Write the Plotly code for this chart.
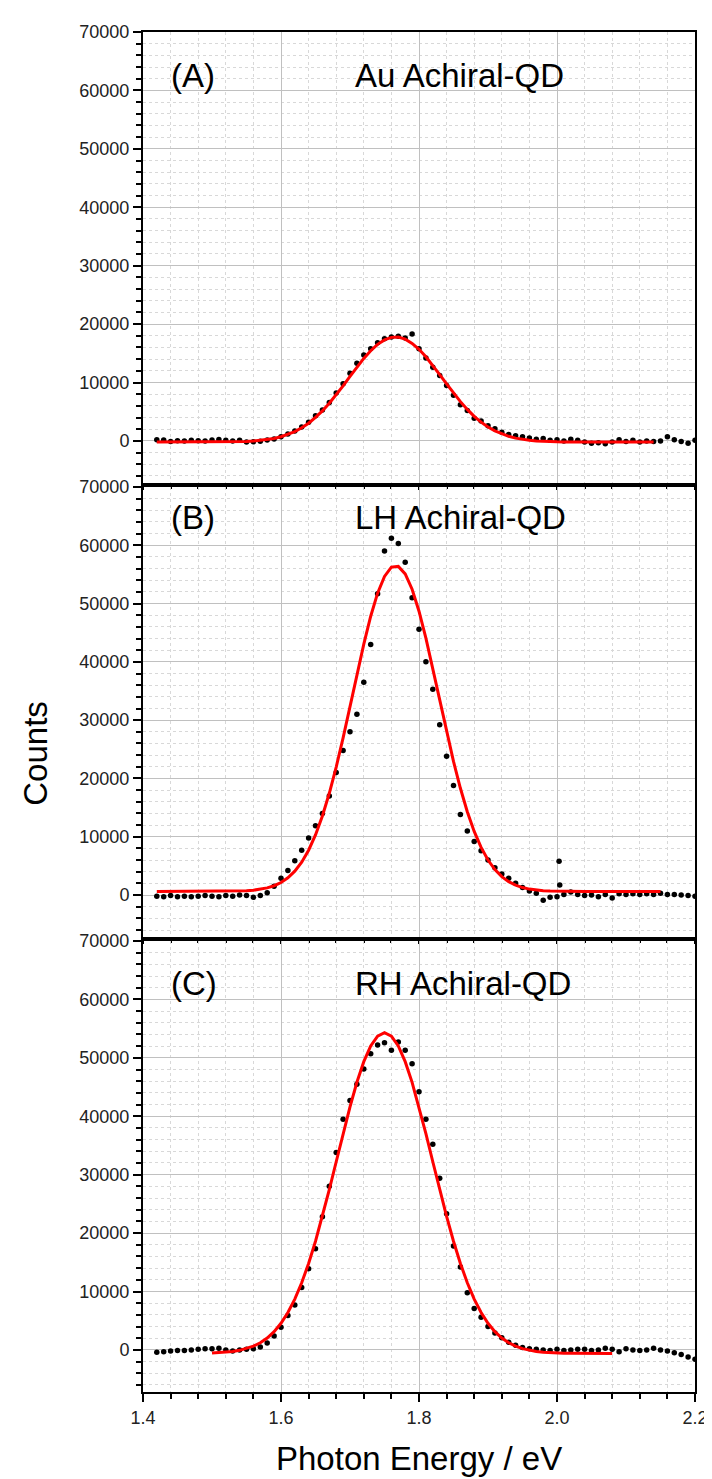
import plotly.graph_objects as go

# ---------------- data ----------------
energy = [1.42, 1.43, 1.44, 1.45, 1.46, 1.47, 1.48, 1.49, 1.50, 1.51,
          1.52, 1.53, 1.54, 1.55, 1.56, 1.57, 1.58, 1.59, 1.60, 1.61,
          1.62, 1.63, 1.64, 1.65, 1.66, 1.67, 1.68, 1.69, 1.70, 1.71,
          1.72, 1.73, 1.74, 1.75, 1.76, 1.77, 1.78, 1.79, 1.80, 1.81,
          1.82, 1.83, 1.84, 1.85, 1.86, 1.87, 1.88, 1.89, 1.90, 1.91,
          1.92, 1.93, 1.94, 1.95, 1.96, 1.97, 1.98, 1.99, 2.00, 2.01,
          2.02, 2.03, 2.04, 2.05, 2.06, 2.07, 2.08, 2.09, 2.10, 2.11,
          2.12, 2.13, 2.14, 2.15, 2.16, 2.17, 2.18, 2.19, 2.20]

counts_a = [200, 150, -100, 50, 0, 100, 50, 0, 150, 250,
            100, 0, 100, -200, -150, -50, 150, 350, 700, 1200,
            1700, 2400, 3200, 4300, 5300, 6600, 8200, 9800, 11600, 13300,
            14700, 15800, 16800, 17500, 17800, 17900, 17600, 18300, 15800, 14200,
            12600, 11200, 9500, 7800, 6200, 5200, 3900, 3400, 2600, 2100,
            1500, 1100, 900, 700, 500, 300, 400, 100, 200, 0,
            300, 100, -200, -400, -300, -500, -200, 200, -100, 100,
            -200, 0, -100, 0, 700, 200, -100, -400, 100]

fit_energy_a = [1.42, 1.43, 1.44, 1.45, 1.46, 1.47, 1.48, 1.49, 1.50, 1.51,
                1.52, 1.53, 1.54, 1.55, 1.56, 1.57, 1.58, 1.59, 1.60, 1.61,
                1.62, 1.63, 1.64, 1.65, 1.66, 1.67, 1.68, 1.69, 1.70, 1.71,
                1.72, 1.73, 1.74, 1.75, 1.76, 1.77, 1.78, 1.79, 1.80, 1.81,
                1.82, 1.83, 1.84, 1.85, 1.86, 1.87, 1.88, 1.89, 1.90, 1.91,
                1.92, 1.93, 1.94, 1.95, 1.96, 1.97, 1.98, 1.99, 2.00, 2.01,
                2.02, 2.03, 2.04, 2.05, 2.06, 2.07, 2.08, 2.09, 2.10, 2.11,
                2.12, 2.13, 2.14]
fit_a = [-200, -200, -200, -200, -199, -198, -196, -194, -191, -184,
         -174, -155, -128, -80, -16, 90, 227, 430, 714, 1100,
         1596, 2250, 3033, 4020, 5141, 6450, 7887, 9430, 11039, 12620,
         14119, 15440, 16531, 17300, 17730, 17800, 17422, 16700, 15685, 14400,
         12933, 11350, 9754, 8200, 6723, 5400, 4215, 3220, 2381, 1720,
         1186, 790, 482, 270, 108, 10, -72, -120, -151, -170,
         -183, -190, -195, -197, -199, -200, -200, -200, -200, -200,
         -200, -200, -200]

energy_b = [1.42, 1.43, 1.44, 1.45, 1.46, 1.47, 1.48, 1.49, 1.50, 1.51,
            1.52, 1.53, 1.54, 1.55, 1.56, 1.57, 1.58, 1.59, 1.60, 1.61,
            1.62, 1.63, 1.64, 1.65, 1.66, 1.67, 1.68, 1.69, 1.70, 1.71,
            1.72, 1.73, 1.74, 1.75, 1.76, 1.77, 1.78, 1.79, 1.80, 1.81,
            1.82, 1.83, 1.84, 1.85, 1.86, 1.87, 1.88, 1.89, 1.90, 1.91,
            1.92, 1.93, 1.94, 1.95, 1.96, 1.97, 1.98, 1.99, 2.00,
            2.003, 2.004,
            2.01, 2.02, 2.03, 2.04, 2.05, 2.06, 2.07, 2.08, 2.09, 2.10,
            2.11, 2.12, 2.13, 2.14, 2.15, 2.16, 2.17, 2.18, 2.19, 2.20]
counts_b = [-200, -300, -100, -300, -200, -300, -200, -100, -200, -300,
            -100, -200, 0, -100, -400, -100, 400, 1500, 2900, 4200,
            5900, 7700, 9800, 11900, 14000, 17000, 21000, 24800, 28000, 31000,
            36500, 43000, 51700, 59000, 61200, 60300, 57100, 51000, 45600, 40000,
            35300, 29200, 23800, 18800, 13800, 11000, 9200, 7600, 6000, 4700,
            3600, 2900, 2000, 1300, 700, 300, -900, -400, -300,
            5800, 1700,
            100, 500, 100, -100, 0, -300, 100, -500, 200, 100,
            200, 100, 200, 100, 300, 100, 100, 0, -100, -200]

fit_energy_b = [1.42, 1.43, 1.44, 1.45, 1.46, 1.47, 1.48, 1.49, 1.50, 1.51,
                1.52, 1.53, 1.54, 1.55, 1.56, 1.57, 1.58, 1.59, 1.60, 1.61,
                1.62, 1.63, 1.64, 1.65, 1.66, 1.67, 1.68, 1.69, 1.70, 1.71,
                1.72, 1.73, 1.74, 1.75, 1.76, 1.77, 1.78, 1.79, 1.80, 1.81,
                1.82, 1.83, 1.84, 1.85, 1.86, 1.87, 1.88, 1.89, 1.90, 1.91,
                1.92, 1.93, 1.94, 1.95, 1.96, 1.97, 1.98, 1.99, 2.00, 2.01,
                2.02, 2.03, 2.04, 2.05, 2.06, 2.07, 2.08, 2.09, 2.10, 2.11,
                2.12, 2.13, 2.14, 2.15]
fit_b = [600, 600, 600, 600, 600, 600, 600, 600, 600, 605,
         621, 640, 673, 729, 824, 975, 1221, 1595, 2150, 2957,
         4094, 5642, 7688, 10316, 13564, 17459, 21960, 26974, 32324, 37774,
         43050, 47830, 51793, 54667, 56237, 56383, 55091, 52464, 48696, 44057,
         38858, 33408, 28019, 22926, 18315, 14290, 10908, 8163, 6006, 4368,
         3155, 2288, 1690, 1283, 1019, 849, 744, 682, 645, 625,
         612, 606, 603, 601, 600, 600, 600, 600, 600, 600,
         600, 600, 600, 600]

counts_c = [-400, -300, -200, -100, -100, 0, 100, 200, 200, 300,
            0, -200, 0, 100, 200, 500, 1200, 2400, 3900, 5900,
            7700, 10700, 13900, 17300, 22800, 28000, 33800, 39500, 42700, 45500,
            48100, 50700, 52200, 52600, 51300, 52700, 51300, 49000, 44200, 39500,
            35200, 29400, 23300, 17800, 14200, 9800, 7100, 5600, 4000, 2900,
            2100, 1300, 800, 400, 200, 100, 0, -100, 100, -100,
            0, 100, 100, -100, 0, 300, 100, -300, 200, 0,
            -100, 0, 300, 0, -200, -500, -800, -1200, -1600]

fit_energy_c = [1.50, 1.51, 1.52, 1.53, 1.54, 1.55, 1.56, 1.57, 1.58, 1.59,
                1.60, 1.61, 1.62, 1.63, 1.64, 1.65, 1.66, 1.67, 1.68, 1.69,
                1.70, 1.71, 1.72, 1.73, 1.74, 1.75, 1.76, 1.77, 1.78, 1.79,
                1.80, 1.81, 1.82, 1.83, 1.84, 1.85, 1.86, 1.87, 1.88, 1.89,
                1.90, 1.91, 1.92, 1.93, 1.94, 1.95, 1.96, 1.97, 1.98, 1.99,
                2.00, 2.01, 2.02, 2.03, 2.04, 2.05, 2.06, 2.07, 2.08]
fit_c = [-523, -470, -388, -260, -65, 223, 640, 1228, 2041, 3133,
         4566, 6411, 8706, 11500, 14805, 18610, 22848, 27432, 32214, 37017,
         41624, 45812, 49348, 52044, 53728, 54300, 53728, 52044, 49348, 45812,
         41624, 37017, 32214, 27432, 22848, 18610, 14805, 11500, 8706, 6411,
         4566, 3133, 2041, 1228, 640, 223, -65, -260, -388, -470,
         -523, -555, -575, -587, -593, -597, -599, -600, -600]

panel_letters = ["(A)", "(B)", "(C)"]
panel_titles = ["Au Achiral-QD", "LH Achiral-QD", "RH Achiral-QD"]
label_y = [62500, 64700, 62800]

x_title = "Photon Energy / eV"
y_title = "Counts"

# ---------------- figure ----------------
FONT = "Liberation Sans, Arial, sans-serif"
W, H = 712, 1479
ML, MR, MT, MB = 135, 16, 24, 95
plot_h = H - MT - MB
tops = [24, 479, 933]
bottoms = [475, 929, 1384]

def frac(py):
    return (H - MB - py) / plot_h

fig = go.Figure()

series = [(energy, counts_a, fit_energy_a, fit_a),
          (energy_b, counts_b, fit_energy_b, fit_b),
          (energy, counts_c, fit_energy_c, fit_c)]

for i, (ex, cy, fx, fy) in enumerate(series):
    xa = "x" if i == 0 else f"x{i+1}"
    ya = "y" if i == 0 else f"y{i+1}"
    fig.add_trace(go.Scatter(x=ex, y=cy, mode="markers", xaxis=xa, yaxis=ya,
                             marker=dict(color="black", size=5.5),
                             showlegend=False))
    fig.add_trace(go.Scatter(x=fx, y=fy, mode="lines", xaxis=xa, yaxis=ya,
                             line=dict(color="#ff0000", width=3),
                             showlegend=False))

layout = dict(
    width=W, height=H,
    margin=dict(l=ML, r=MR, t=MT, b=MB),
    paper_bgcolor="white", plot_bgcolor="white",
    font=dict(family=FONT, color="#222"),
    showlegend=False,
)

for i in range(3):
    xk = "xaxis" if i == 0 else f"xaxis{i+1}"
    yk = "yaxis" if i == 0 else f"yaxis{i+1}"
    ya = "y" if i == 0 else f"y{i+1}"
    xa = "x" if i == 0 else f"x{i+1}"
    layout[xk] = dict(
        domain=[0, 1], anchor=ya, range=[1.4, 2.2],
        tick0=1.4, dtick=0.2, tickformat=".1f",
        showgrid=True, gridcolor="#c0c0c0", gridwidth=1, zeroline=False,
        showline=True, linecolor="black", linewidth=2, mirror=True,
        ticks="outside", ticklen=8 if i == 2 else 5, tickwidth=2, tickcolor="black",
        showticklabels=(i == 2), tickfont=dict(size=18, color="#222"),
        minor=dict(dtick=0.04, tick0=1.4, ticks="outside",
                   ticklen=5 if i == 2 else 4, tickwidth=1.5, tickcolor="black",
                   showgrid=True, gridcolor="#d8d8d8", griddash="3px,3px", gridwidth=1),
    )
    layout[yk] = dict(
        domain=[frac(bottoms[i]), frac(tops[i])], anchor=xa,
        range=[-7200, 70000], tick0=0, dtick=10000, tickformat="d",
        showgrid=True, gridcolor="#c0c0c0", gridwidth=1, zeroline=False,
        showline=True, linecolor="black", linewidth=2, mirror=True,
        ticks="outside", ticklen=8, tickwidth=2, tickcolor="black",
        tickfont=dict(size=18, color="#222"),
        minor=dict(dtick=2000, tick0=0, ticks="outside", ticklen=5,
                   tickwidth=1.5, tickcolor="black",
                   showgrid=True, gridcolor="#d8d8d8", griddash="3px,3px", gridwidth=1),
    )

fig.update_layout(**layout)

annotations = []
for i in range(3):
    xa = "x" if i == 0 else f"x{i+1}"
    ya = "y" if i == 0 else f"y{i+1}"
    annotations.append(dict(x=1.437, y=label_y[i], xref=xa, yref=ya,
                            text=panel_letters[i], showarrow=False,
                            xanchor="left", yanchor="middle",
                            font=dict(size=33, color="black", family=FONT)))
    annotations.append(dict(x=1.704, y=label_y[i], xref=xa, yref=ya,
                            text=panel_titles[i], showarrow=False,
                            xanchor="left", yanchor="middle",
                            font=dict(size=33, color="black", family=FONT)))

annotations.append(dict(x=0.5, y=(H - MB - 1450) / plot_h, xref="paper", yref="paper",
                        text=x_title, showarrow=False, xanchor="center", yanchor="middle",
                        font=dict(size=33, color="black", family=FONT)))
annotations.append(dict(x=(25 - ML) / (W - ML - MR), y=(H - MB - 745) / plot_h,
                        xref="paper", yref="paper", text=y_title, showarrow=False,
                        textangle=-90, xanchor="center", yanchor="middle",
                        font=dict(size=33, color="black", family=FONT)))
fig.update_layout(annotations=annotations)

fig.write_html("out.html")
